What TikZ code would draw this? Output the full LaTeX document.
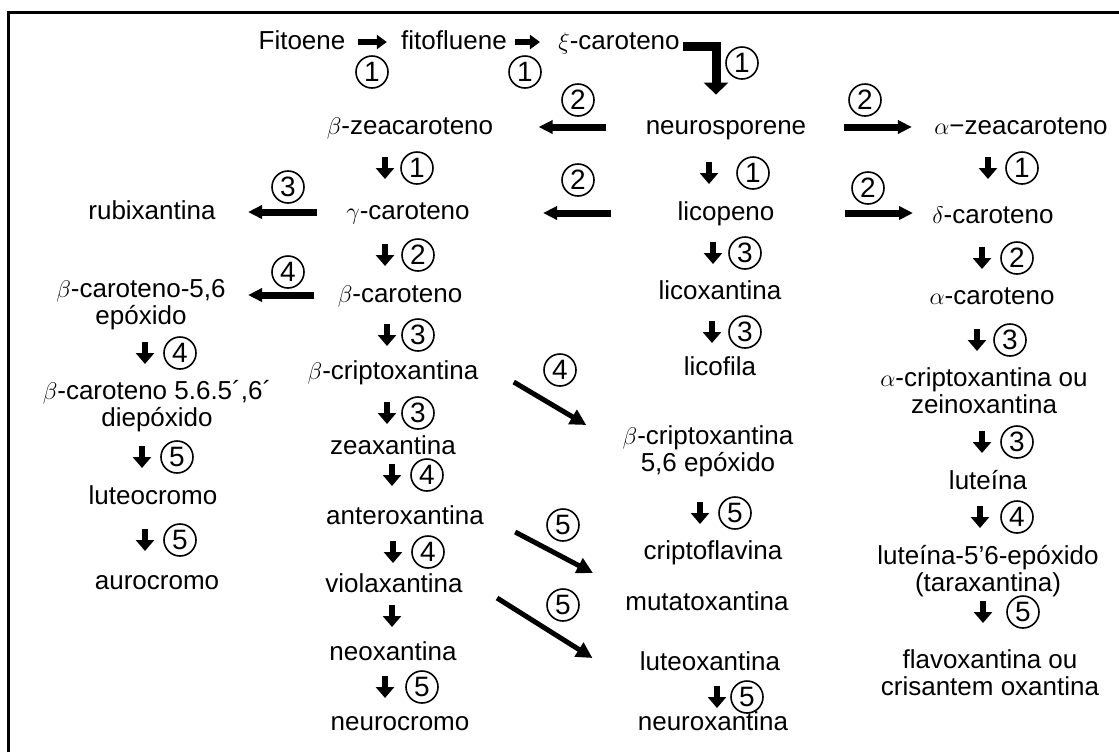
\documentclass[tikz,border=0pt]{standalone}
\usepackage{fontspec}
\setmainfont{Liberation Sans}
\usetikzlibrary{arrows.meta}

\begin{document}
\begin{tikzpicture}[x=0.5pt,y=-0.5pt,line join=miter,
	txt/.style={font=\fontsize{13}{15}\selectfont,inner sep=0pt,text height=10pt,text depth=3pt},
	txtt/.style={font=\fontsize{13}{13.5}\selectfont,inner sep=0pt,align=center},
	num/.style={circle,draw,line width=0.8pt,inner sep=0pt,minimum size=16pt,font=\fontsize{14}{14}\selectfont},
	sm/.style={-{Triangle[width=7pt,length=5pt]},line width=2.8pt},
	hbig/.style={-{Triangle[width=6.5pt,length=7pt]},line width=3.5pt},
	dn/.style={-{Triangle[width=9pt,length=5.5pt]},line width=2.8pt},
	diag/.style={-{Triangle[width=8pt,length=8pt]},line width=2.5pt},
	bent/.style={-{Triangle[width=12pt,length=6pt]},line width=4.5pt}]
	\useasboundingbox (0,0) rectangle (1119,752);
	\draw[line width=1.5pt] (8,752) -- (8,12) -- (1119,12);
	
	% compostos
	\node[txt] (fito) at (302,42) {Fitoene};
	\node[txt] (fitof) at (454,42) {fitofluene};
	\node[txt] (xi) at (619,42) {$\xi$-caroteno};
	\node[txt] (bzea) at (410,127) {$\beta$-zeacaroteno};
	\node[txt] (neuro) at (726,127) {neurosporene};
	\node[txt] (azea) at (1021,127) {$\alpha$−zeacaroteno};
	\node[txt] (rubix) at (152,212) {rubixantina};
	\node[txt] (gcar) at (408,212) {$\gamma$-caroteno};
	\node[txt] (licop) at (726,213) {licopeno};
	\node[txt] (dcar) at (993,216) {$\delta$-caroteno};
	\node[txtt] (bce) at (141,305) {$\beta$-caroteno-5,6\\epóxido};
	\node[txt] (bcar) at (400,295) {$\beta$-caroteno};
	\node[txt] (licox) at (720,292) {licoxantina};
	\node[txt] (acar) at (992,297) {$\alpha$-caroteno};
	\node[txt] (bcrip) at (393,372) {$\beta$-criptoxantina};
	\node[txt] (licof) at (720,368) {licofila};
	\node[txtt] (diep) at (157,406) {$\beta$-caroteno 5.6.5´,6´\\diepóxido};
	\node[txtt] (acrip) at (984,391) {$\alpha$-criptoxantina ou\\zeinoxantina};
	\node[txt] (zeax) at (393,447) {zeaxantina};
	\node[txtt] (bcepox) at (708,451) {$\beta$-criptoxantina\\5,6 epóxido};
	\node[txt] (lutein) at (988,482) {luteína};
	\node[txt] (luteoc) at (153,497) {luteocromo};
	\node[txt] (anter) at (405,517) {anteroxantina};
	\node[txt] (criptof) at (713,552) {criptoflavina};
	\node[txtt] (lutep) at (988,571) {luteína-5’6-epóxido\\(taraxantina)};
	\node[txt] (auroc) at (157,582) {aurocromo};
	\node[txt] (viola) at (394,585) {violaxantina};
	\node[txt] (mutat) at (707,603) {mutatoxantina};
	\node[txt] (neox) at (393,653) {neoxantina};
	\node[txt] (luteox) at (710,663) {luteoxantina};
	\node[txtt] (flavox) at (990,673) {flavoxantina ou\\crisantem oxantina};
	\node[txt] (neuroc) at (400,723) {neurocromo};
	\node[txt] (neurox) at (713,723) {neuroxantina};
	
	% setas da primeira linha
	\draw[sm,shorten <=6pt,shorten >=7pt] (fito.east) -- (fitof.west);
	\draw[sm,shorten <=4pt,shorten >=9pt] (fitof.east) -- (xi.west);
	\draw[bent] ([shift={(3,4)}]xi.east) -| ([shift={(-10,-19)}]neuro.north);
	\node[num] (l1) at (372,72) {1};
	\node[num] (l2) at (525,72) {1};
	\node[num] (l3) at (742,63) {1};
	
	% setas horizontais
	\draw[hbig,shorten <=19.5pt,shorten >=22.5pt] (neuro.west) -- (neuro.west -| bzea.east);
	\draw[hbig,shorten <=18.5pt,shorten >=11pt] (neuro.east) -- (neuro.east -| azea.west);
	\draw[hbig,shorten <=14.5pt,shorten >=16pt] (gcar.west) -- (gcar.west -| rubix.east);
	\draw[hbig,shorten <=33pt,shorten >=36.5pt] (licop.west) -- (licop.west -| gcar.east);
	\draw[hbig,shorten <=35pt,shorten >=9.5pt] (licop.east) -- (licop.east -| dcar.west);
	\draw[hbig,shorten <=11.5pt,shorten >=11pt] (bcar.west) -- (bcar.west -| bce.east);
	\node[num] (l4) at (578,100) {2};
	\node[num] (l5) at (865,100) {2};
	\node[num] (l6) at (288,187) {3};
	\node[num] (l7) at (578,180) {2};
	\node[num] (l8) at (868,188) {2};
	\node[num] (l9) at (288,272) {4};
	
	% setas diagonais
	\draw[diag] ([shift={(35,10)}]bcrip.east) -- ([shift={(-36,-26)}]bcepox.west);
	\draw[diag] ([shift={(31,15)}]anter.east) -- ([shift={(-32,-30)}]mutat.west);
	\draw[diag] ([shift={(34,13)}]viola.east) -- ([shift={(-47,-5)}]luteox.west);
	\node[num] (l10) at (560,370) {4};
	\node[num] (l11) at (563,525) {5};
	\node[num] (l12) at (563,605) {5};
	
	% setas para baixo
	\node[num] (s1) at (417,168) {1}; \draw[dn] (s1.center) ++(-32,-11) -- ++(0,22);
	\node[num] (s2) at (753,173) {1}; \draw[dn] (s2.center) ++(-44,-11) -- ++(0,22);
	\node[num] (s3) at (1022,168) {1}; \draw[dn] (s3.center) ++(-34,-11) -- ++(0,22);
	\node[num] (s4) at (418,255) {2}; \draw[dn] (s4.center) ++(-33,-11) -- ++(0,22);
	\node[num] (s5) at (745,253) {3}; \draw[dn] (s5.center) ++(-32,-11) -- ++(0,22);
	\node[num] (s6) at (1017,258) {2}; \draw[dn] (s6.center) ++(-35,-11) -- ++(0,22);
	\node[num] (s7) at (418,335) {3}; \draw[dn] (s7.center) ++(-31,-11) -- ++(0,22);
	\node[num] (s8) at (180,353) {4}; \draw[dn] (s8.center) ++(-35,-11) -- ++(0,22);
	\node[num] (s9) at (745,332) {3}; \draw[dn] (s9.center) ++(-33,-11) -- ++(0,22);
	\node[num] (s10) at (1010,340) {3}; \draw[dn] (s10.center) ++(-33,-11) -- ++(0,22);
	\node[num] (s11) at (418,413) {3}; \draw[dn] (s11.center) ++(-31,-11) -- ++(0,22);
	\node[num] (s12) at (177,457) {5}; \draw[dn] (s12.center) ++(-35,-11) -- ++(0,22);
	\node[num] (s13) at (1017,442) {3}; \draw[dn] (s13.center) ++(-35,-11) -- ++(0,22);
	\node[num] (s14) at (427,475) {4}; \draw[dn] (s14.center) ++(-35,-11) -- ++(0,22);
	\node[num] (s15) at (735,513) {5}; \draw[dn] (s15.center) ++(-35,-11) -- ++(0,22);
	\node[num] (s16) at (1017,517) {4}; \draw[dn] (s16.center) ++(-37,-11) -- ++(0,22);
	\node[num] (s17) at (180,540) {5}; \draw[dn] (s17.center) ++(-35,-11) -- ++(0,22);
	\node[num] (s18) at (428,552) {4}; \draw[dn] (s18.center) ++(-35,-11) -- ++(0,22);
	\node[num] (s19) at (1023,612) {5}; \draw[dn] (s19.center) ++(-40,-11) -- ++(0,22);
	\node[num] (s20) at (422,687) {5}; \draw[dn] (s20.center) ++(-37,-11) -- ++(0,22);
	\node[num] (s21) at (747,697) {5}; \draw[dn] (s21.center) ++(-30,-11) -- ++(0,22);
	\coordinate (vdn) at (392,605);
	\draw[dn] (vdn) -- ++(0,22);
\end{tikzpicture}
\end{document}
